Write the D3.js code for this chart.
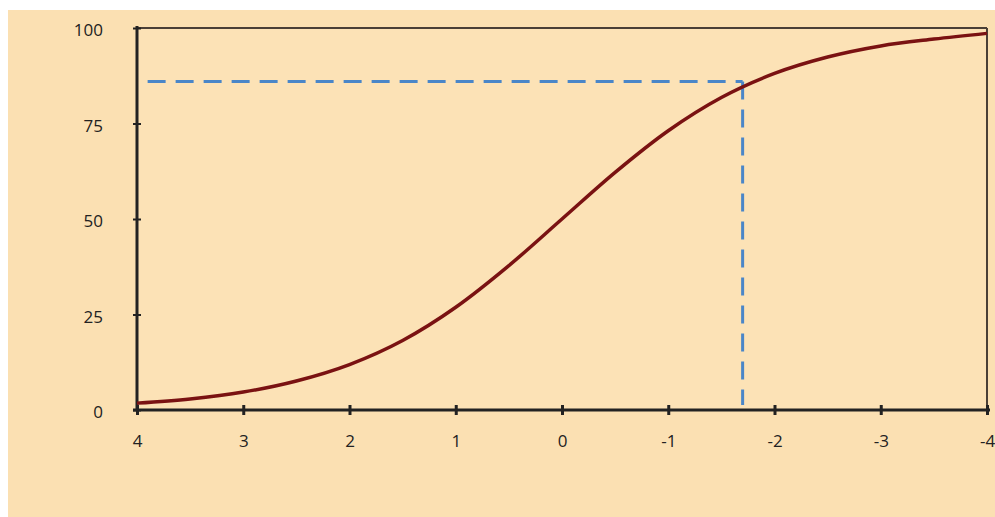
<!DOCTYPE html>
<html><head><meta charset="utf-8">
<script src="https://cdn.jsdelivr.net/npm/d3@7"></script>
<style>
html,body{margin:0;padding:0;background:#fff;}
svg{display:block;}
</style></head><body>
<svg id="c" width="995" height="517"></svg>
<script>
// Data
const abilityX = [4, 3.5, 3, 2.5, 2, 1.5, 1, 0.5, 0, -0.5, -1, -1.5, -2, -2.5, -3, -3.5, -4];
const probabilityY = [1.8, 2.9, 4.7, 7.6, 11.9, 18.2, 26.9, 37.8, 50, 62.2, 73.1, 81.8, 88.1, 92.4, 95.3, 97.1, 98.6];
const xTicks = [4, 3, 2, 1, 0, -1, -2, -3, -4];
const yTicks = [0, 25, 50, 75, 100];
const markerX = [-1.7];
const markerY = [86];
const hLineStartX = [3.9];

const FONT = '"Open Sans","Liberation Sans",sans-serif';
const svg = d3.select("#c");
svg.append("rect").attr("x", 8).attr("y", 10).attr("width", 987).attr("height", 507).attr("fill", "#fbe0b2");

const x = d3.scaleLinear().domain([4, -4]).range([137, 987]);
const y = d3.scaleLinear().domain([0, 100]).range([410, 28]);

svg.append("rect").attr("x", x(4)).attr("y", y(100)).attr("width", x(-4) - x(4)).attr("height", y(0) - y(100)).attr("fill", "#fce2b6");

// frame top and right
svg.append("line").attr("x1", x(4)).attr("x2", x(-4)).attr("y1", y(100)).attr("y2", y(100)).attr("stroke", "#4a3f36").attr("stroke-width", 2);
svg.append("line").attr("x1", x(-4)).attr("x2", x(-4)).attr("y1", y(100)).attr("y2", y(0)).attr("stroke", "#4a3f36").attr("stroke-width", 2);

// axes
const xAxis = d3.axisBottom(x).tickValues(xTicks).tickSize(5).tickSizeOuter(0).tickPadding(20).tickFormat(d => String(d));
const gx = svg.append("g").attr("transform", `translate(0,${y(0)})`).call(xAxis)
  .attr("font-family", FONT).attr("font-size", 17);
gx.select(".domain").attr("stroke", "#222").attr("stroke-width", 3).attr("d", `M${x(4)-4},0H${x(-4)+3}`);
gx.selectAll(".tick line").attr("stroke", "#222").attr("stroke-width", 3).attr("y1", -5).attr("y2", 5);
gx.selectAll("text").attr("fill", "#222");

const yAxis = d3.axisLeft(y).tickValues(yTicks).tickSize(5).tickSizeOuter(0).tickPadding(29).tickFormat(d => String(d));
const gy = svg.append("g").attr("transform", `translate(${x(4)},0)`).call(yAxis)
  .attr("font-family", FONT).attr("font-size", 17);
gy.select(".domain").attr("stroke", "#222").attr("stroke-width", 3).attr("d", `M0,${y(100)-2}V${y(0)}`);
gy.selectAll(".tick line").attr("stroke", "#222").attr("stroke-width", 2).attr("x1", -4).attr("x2", 4);
gy.selectAll("text").attr("fill", "#222").attr("dy", "0.45em");

// dashed guides
svg.append("line").attr("x1", x(hLineStartX[0])).attr("x2", x(markerX[0])).attr("y1", y(markerY[0])).attr("y2", y(markerY[0]))
  .attr("stroke", "#4a86c8").attr("stroke-width", 3).attr("stroke-dasharray", "18,10");
svg.append("line").attr("x1", x(markerX[0])).attr("x2", x(markerX[0])).attr("y1", y(markerY[0])).attr("y2", y(0) - 5)
  .attr("stroke", "#4a86c8").attr("stroke-width", 3).attr("stroke-dasharray", "18,10");

// curve
const pts = abilityX.map((v, i) => [v, probabilityY[i]]);
svg.append("path").datum(pts)
  .attr("d", d3.line().x(d => x(d[0])).y(d => y(d[1])).curve(d3.curveMonotoneX))
  .attr("fill", "none").attr("stroke", "#7a1212").attr("stroke-width", 3.5);
</script>
</body></html>
